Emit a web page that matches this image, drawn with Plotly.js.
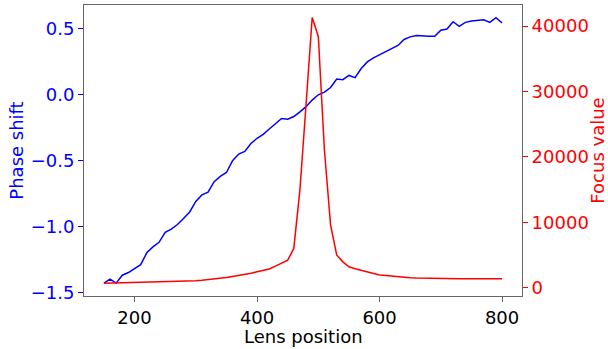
<!DOCTYPE html>
<html>
<head>
<meta charset="utf-8">
<script src="https://cdn.plot.ly/plotly-3.0.1.min.js"></script>
<style>html,body{margin:0;padding:0;background:#fff;}#chart{width:608px;height:349px;}</style>
</head>
<body>
<div id="chart"></div>
<script>
const lensPosition = [150,160,170,180,190,200,210,220,230,240,250,260,270,280,290,300,310,320,330,340,350,360,370,380,390,400,410,420,430,440,450,460,470,480,490,500,510,520,530,540,550,560,570,580,590,600,610,620,630,640,650,660,670,680,690,700,710,720,730,740,750,760,770,780,790,800];
const phaseShift = [-1.43,-1.40,-1.43,-1.37,-1.35,-1.32,-1.29,-1.20,-1.155,-1.12,-1.045,-1.02,-0.985,-0.94,-0.89,-0.81,-0.76,-0.74,-0.66,-0.62,-0.59,-0.50,-0.45,-0.43,-0.37,-0.33,-0.30,-0.26,-0.22,-0.18,-0.185,-0.165,-0.13,-0.09,-0.04,0.00,0.02,0.055,0.12,0.115,0.147,0.13,0.20,0.25,0.28,0.305,0.33,0.35,0.375,0.42,0.44,0.45,0.445,0.445,0.445,0.49,0.50,0.555,0.52,0.55,0.56,0.565,0.57,0.55,0.585,0.545];
const focusValue = [680,700,720,740,760,780,800,820,850,870,900,930,960,1000,1040,1080,1150,1230,1330,1430,1550,1700,1830,2000,2200,2450,2650,2850,3300,3800,4200,6000,15000,28000,41300,38400,21000,9600,5000,3950,3200,2900,2650,2400,2100,1950,1850,1750,1650,1580,1520,1480,1450,1420,1400,1390,1380,1375,1370,1365,1360,1360,1355,1355,1350,1350];
const xTicks = [200,400,600,800];
const yTicks = [-1.5,-1.0,-0.5,0.0,0.5];
const y2Ticks = [0,10000,20000,30000,40000];
const xTitle = 'Lens position';

const font = {family: 'DejaVu Sans, sans-serif', size: 18};
const data = [
  {x: lensPosition, y: phaseShift, type: 'scatter', mode: 'lines', line: {color: 'blue', width: 1.5}, yaxis: 'y', hoverinfo: 'none'},
  {x: lensPosition, y: focusValue, type: 'scatter', mode: 'lines', line: {color: 'red', width: 1.5}, yaxis: 'y2', hoverinfo: 'none'}
];
const layout = {
  width: 608, height: 349,
  margin: {l: 84, r: 86, t: 5, b: 53},
  paper_bgcolor: '#fff', plot_bgcolor: '#fff',
  showlegend: false,
  font: font,
  xaxis: {
    range: [117.5, 832.5], tickvals: xTicks, ticktext: xTicks.map(String),
    showgrid: false, zeroline: false, showline: true, mirror: true, linecolor: '#666', linewidth: 1,
    ticks: 'outside', ticklen: 5, tickcolor: '#666', tickfont: {family: font.family, size: 18, color: '#000'}
  },
  yaxis: {
    range: [-1.528, 0.682], tickvals: yTicks, ticktext: yTicks.map(v => (v < 0 ? '\u2212' : '') + Math.abs(v).toFixed(1)),
    showgrid: false, zeroline: false, showline: true, linecolor: '#666', linewidth: 1,
    ticks: 'outside', ticklen: 5, tickcolor: 'blue', tickfont: {family: font.family, size: 18, color: 'blue'},
    title: {text: 'Phase shift', font: {family: font.family, size: 18, color: 'blue'}, standoff: 2}
  },
  yaxis2: {
    range: [-1270, 43211], tickvals: y2Ticks, ticktext: y2Ticks.map(String),
    overlaying: 'y', side: 'right',
    showgrid: false, zeroline: false, showline: true, linecolor: '#666', linewidth: 1,
    ticks: 'outside', ticklen: 5, tickcolor: 'red', tickfont: {family: font.family, size: 18, color: 'red'},
    title: {text: 'Focus value', font: {family: font.family, size: 18, color: 'red'}, standoff: 10}
  },
  annotations: [{
    text: xTitle, xref: 'paper', yref: 'paper', x: 0.5, y: 0, xanchor: 'center', yanchor: 'middle',
    yshift: -40, showarrow: false, font: {family: font.family, size: 18, color: '#000'}
  }]
};
Plotly.newPlot('chart', data, layout, {staticPlot: true, displayModeBar: false});
</script>
</body>
</html>
